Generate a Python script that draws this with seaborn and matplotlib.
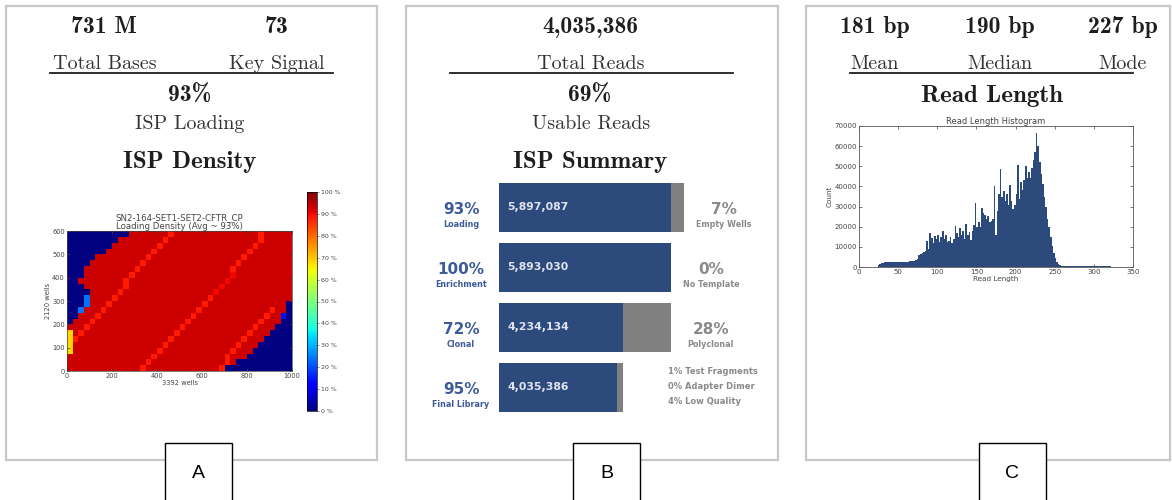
import numpy as np
import pandas as pd
import matplotlib
matplotlib.use("Agg")
import matplotlib.pyplot as plt
from matplotlib.patches import Rectangle
from matplotlib.transforms import offset_copy
import seaborn as sns

# ---- panel A: run summary + chip loading map
total_bases = "731 M"
key_signal = "73"
isp_loading = "93%"
chip_title = "SN2-164-SET1-SET2-CFTR_CP\nLoading Density (Avg ~ 93%)"
chip_x_ticks = [0, 200, 400, 600, 800, 1000]
chip_y_ticks = [0, 100, 200, 300, 400, 500, 600]

# loading per block of 25x25 wells (40 blocks across, 24 down, top row first)
# run-length coded: letter = density class, number = blocks in a row
density_level = {"b": 0, "l": 14, "c": 24, "y": 68, "s": 88, "f": 90, "R": 93}
density_rows = [
    "b11 R7 s1 R15 s1 R5",
    "b9 R8 s1 R16 s1 R5",
    "b8 R8 s1 R16 s1 R6",
    "b7 R8 s1 R16 s1 R7",
    "b5 R9 s1 R16 s1 R8",
    "b4 R9 s1 R16 s1 R9",
    "b3 R9 s1 R16 s1 R10",
    "b3 R8 s1 R17 f1 R10",
    "b2 R8 s1 R17 f1 R11",
    "b3 R7 s1 R16 f1 R12",
    "b4 R5 s1 R16 f1 R13",
    "b3 c1 R4 s1 R16 s1 R14",
    "b3 c1 R3 s1 R16 s1 R14 b1",
    "b2 c1 R3 s1 R16 s1 R12 s1 R2 b1",
    "b2 R3 s1 R16 s1 R12 s1 R2 l1 b1",
    "b1 R3 s1 R16 s1 R12 s1 R3 b2",
    "R3 s1 R16 s1 R12 s1 R3 b3",
    "y1 R1 s1 R16 s1 R12 s1 R3 b4",
    "y1 s1 R16 s1 R12 s1 R3 b5",
    "y1 R16 s1 R12 s1 R3 b6",
    "y1 R15 s1 R12 s1 R3 b7",
    "R15 s1 R12 s1 R3 b8",
    "R14 s1 R13 s1 R1 b10",
    "R13 s1 R13 s1 b12",
]

# ---- panel B: ISP summary
total_reads = "4,035,386"
usable_reads = "69%"
isp_stages = ["Loading", "Enrichment", "Clonal", "Final Library"]
isp_pass = [5897087, 5893030, 4234134, 4035386]
isp_total = [6341000, 5897087, 5893030, 4234134]
isp_fail_labels = ["Empty Wells", "No Template", "Polyclonal", ""]
library_filters = ["1% Test Fragments", "0% Adapter Dimer", "4% Low Quality"]

# ---- panel C: read length
read_len_stats = [("181 bp", "Mean"), ("190 bp", "Median"), ("227 bp", "Mode")]
bin_width = 2
bin_first = 24
# reads (thousands) per 2 bp bin, 24..262 bp
read_counts_k = [
    1.0, 1.5, 2.0,
    2.0, 2.5, 2.5, 2.5, 2.5,
    2.5, 2.5, 2.5, 2.5, 2.5,
    2.5, 2.5, 2.5, 2.5, 2.5,
    2.5, 2.5, 3.0, 3.0, 3.0,
    3.0, 3.5, 4.0, 6.0, 6.5,
    7.0, 7.5, 8.0, 13.0, 9.0,
    17.0, 14.5, 12.0, 15.5, 14.0,
    16.0, 12.5, 15.0, 18.0, 14.0,
    16.0, 12.5, 13.0, 15.0, 12.0,
    14.0, 20.5, 17.0, 15.0, 19.5,
    16.0, 18.0, 14.0, 21.5, 16.0,
    17.5, 13.5, 18.0, 21.0, 32.0,
    20.0, 22.5, 20.0, 29.5, 27.0,
    26.0, 24.0, 25.5, 22.5, 23.0,
    24.0, 40.0, 16.0, 28.0, 36.0,
    48.5, 35.0, 37.5, 33.0, 36.0,
    31.0, 40.5, 33.0, 29.0, 31.0,
    36.0, 50.5, 34.0, 42.0, 38.0,
    43.0, 50.0, 44.0, 47.0, 44.0,
    49.0, 53.0, 57.0, 66.5, 60.0,
    52.0, 46.0, 41.0, 35.0, 30.0,
    24.0, 20.0, 15.0, 10.5, 7.0,
    4.5, 2.5, 1.5, 0.8, 0.5,
    0.4,
]
tail_edges = [300, 322]
tail_counts_k = [0.5, 0.3]

NAVY = "#2d4a7c"
GRAY = "#808080"
BLUE_TXT = "#3d5b98"
GRAY_TXT = "#8a8a8a"
INK = "#1e1e1e"

W, H = 1172, 500
fig = plt.figure(figsize=(W / 100, H / 100), dpi=100)


def px_axes(x, y, w, h):
    return fig.add_axes([x / W, 1 - (y + h) / H, w / W, h / H])


bg = px_axes(0, 0, W, H)
bg.set_xlim(0, W)
bg.set_ylim(H, 0)
bg.axis("off")

# panel frames and letter tabs
for x0, x1, tab_x, letter in [(6, 377, 165, "A"), (406, 778, 573, "B"), (806, 1170, 979, "C")]:
    bg.add_patch(Rectangle((x0, 6), x1 - x0, 454, fill=False, ec="#c8c8c8", lw=1.6))
    bg.add_patch(Rectangle((tab_x, 443), 67, 62, fc="white", ec="black", lw=1.0, zorder=3))
    bg.text(tab_x + 33.5, 478, letter, ha="center", va="baseline", fontsize=14,
            family="Liberation Sans", zorder=4)


def big(x, y, s, size=17):
    bg.text(x, y, s, ha="center", va="baseline", family="cmb10", fontsize=size, color=INK)


def small(x, y, s, size=14.5):
    bg.text(x, y, s, ha="center", va="baseline", family="cmr10", fontsize=size, color="#333333")


# panel A headers
big(104, 33, total_bases)
small(105, 69, "Total Bases")
big(277, 33, key_signal)
small(277, 69, "Key Signal")
bg.plot([50, 333], [72.5, 72.5], color=INK, lw=1.3)
big(190, 102, isp_loading)
small(190, 129, "ISP Loading")
big(190, 168, "ISP Density", 18)

# panel B headers
big(590, 33, total_reads)
small(591, 69, "Total Reads")
bg.plot([450, 733], [72.5, 72.5], color=INK, lw=1.3)
big(590, 102, usable_reads)
small(591, 129, "Usable Reads")
big(590, 168, "ISP Summary", 18)

# panel C headers
for cx, (val, lab) in zip([875, 1000, 1123], read_len_stats):
    big(cx, 33, val)
    small(cx, 69, lab)
bg.plot([850, 1133], [72.5, 72.5], color=INK, lw=1.3)
big(992, 102, "Read Length", 18)

# ---- chip density heatmap
grid = []
for row in density_rows:
    vals = []
    for tok in row.split():
        vals += [density_level[tok[0]]] * int(tok[1:])
    grid.append(vals)
grid = pd.DataFrame(grid)
n_rows, n_cols = grid.shape

hax = px_axes(67, 231, 225, 140)
cax = px_axes(307, 192, 10, 219)
sns.heatmap(grid, cmap="jet", vmin=0, vmax=100, ax=hax, cbar_ax=cax,
            xticklabels=False, yticklabels=False, linewidths=0)
hax.set_xticks([v / 1000 * n_cols for v in chip_x_ticks])
hax.set_xticklabels([str(v) for v in chip_x_ticks])
hax.set_yticks([n_rows - v / 600 * n_rows for v in chip_y_ticks])
hax.set_yticklabels([str(v) for v in chip_y_ticks])
for s in hax.spines.values():
    s.set_visible(True)
    s.set_linewidth(0.5)
    s.set_color("#444444")
hax.tick_params(direction="in", length=2, width=0.5, labelsize=4.8, pad=1.5,
                top=True, right=True, colors="#444444")
hax.set_xlabel("3392 wells", fontsize=4.9, labelpad=1, color="#444444")
hax.set_ylabel("2120 wells", fontsize=4.9, labelpad=1, color="#444444")
hax.set_title(chip_title, fontsize=6.2, color="#444444", pad=1.5, linespacing=1.0)
cbar = hax.collections[0].colorbar
cbar.set_ticks(list(range(0, 101, 10)))
cbar.set_ticklabels([f"{v} %" for v in range(0, 101, 10)])
cax.tick_params(labelsize=4.5, length=1.5, width=0.4, pad=1.5, colors="#444444")
cbar.outline.set_linewidth(0.5)

# ---- ISP summary bars
bax = px_axes(499, 177.5, 185, 240)
sns.barplot(x=isp_total, y=isp_stages, color=GRAY, saturation=1, width=0.82,
            orient="h", ax=bax)
sns.barplot(x=isp_pass, y=isp_stages, color=NAVY, saturation=1, width=0.82,
            orient="h", ax=bax)
bax.set_xlim(0, isp_total[0])
bax.set_ylim(3.5, -0.5)
bax.axis("off")

left_tr = offset_copy(bax.transData, fig=fig, x=-38, y=0, units="dots")
in_tr = offset_copy(bax.transData, fig=fig, x=8, y=0, units="dots")
right_tr = offset_copy(bax.transData, fig=fig, x=40, y=0, units="dots")
filt_tr = offset_copy(bax.transData, fig=fig, x=45, y=0, units="dots")
for i, (stage, p, t, fail) in enumerate(zip(isp_stages, isp_pass, isp_total, isp_fail_labels)):
    pct = round(100 * p / t)
    bax.text(0, i + 0.1, f"{pct}%", transform=left_tr, ha="center", va="baseline",
             fontsize=11, fontweight="bold", color=BLUE_TXT, clip_on=False)
    bax.text(0, i + 0.28, stage, transform=left_tr, ha="center", va="center",
             fontsize=5.8, fontweight="bold", color=BLUE_TXT, clip_on=False)
    bax.text(0, i, f"{p:,}", transform=in_tr, ha="left", va="center",
             fontsize=7.8, fontweight="bold", color="#dfe4ee")
    if fail:
        bax.text(t, i + 0.1, f"{100 - pct}%", transform=right_tr, ha="center", va="baseline",
                 fontsize=11, fontweight="bold", color=GRAY_TXT, clip_on=False)
        bax.text(t, i + 0.28, fail, transform=right_tr, ha="center", va="center",
                 fontsize=5.8, fontweight="bold", color=GRAY_TXT, clip_on=False)
for k, line in enumerate(library_filters):
    bax.text(isp_total[3], 3 - 0.27 + 0.25 * k, line, transform=filt_tr, ha="left",
             va="center", fontsize=6.0, fontweight="bold", color=GRAY_TXT, clip_on=False)

# ---- read length histogram
edges = [bin_first + bin_width * k for k in range(len(read_counts_k) + 1)] + tail_edges
counts = [c * 1000 for c in read_counts_k + tail_counts_k]
centers = [(a + b) / 2 for a, b in zip(edges[:-1], edges[1:])]

rax = px_axes(859, 126, 274, 141)
sns.histplot(x=centers, weights=counts, bins=edges, color=NAVY, alpha=1,
             linewidth=0, ax=rax)
rax.set_xlim(0, 350)
rax.set_ylim(0, 70000)
rax.set_xticks(range(0, 351, 50))
rax.set_yticks(range(0, 70001, 10000))
rax.tick_params(direction="in", length=2.5, width=0.5, labelsize=5, pad=1.5,
                top=True, right=True, colors="#444444")
for s in rax.spines.values():
    s.set_linewidth(0.6)
    s.set_color("#555555")
rax.set_xlabel("Read Length", fontsize=5.2, labelpad=1, color="#444444")
rax.set_ylabel("Count", fontsize=5.2, labelpad=1, color="#444444")
rax.set_title("Read Length Histogram", fontsize=6, pad=1.5, color="#444444")

fig.savefig("out.png", dpi=100)
